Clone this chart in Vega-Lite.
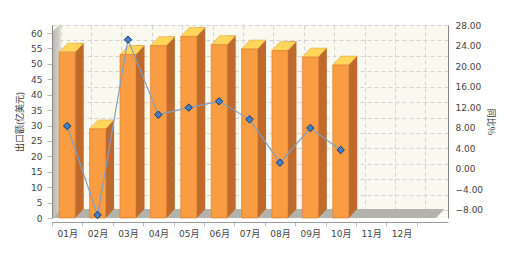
{
  "$schema": "https://vega.github.io/schema/vega-lite/v6.json",
  "width": 396,
  "height": 193,
  "autosize": {"type": "none"},
  "padding": {"left": 52, "top": 25, "right": 71, "bottom": 44},
  "background": "white",
  "view": {"fill": "#F9F9EF", "stroke": null},
  "config": {
    "axis": {
      "labelFont": "DejaVu Sans, Noto Sans CJK SC",
      "labelFontSize": 9,
      "labelColor": "#444444",
      "titleFont": "Noto Sans CJK SC",
      "titleFontSize": 9,
      "titleFontWeight": "normal",
      "titleColor": "#333333"
    }
  },
  "datasets": {
    "main": [
      {"month": "01月", "export": 53.8, "yoy": 8.35},
      {"month": "02月", "export": 28.9, "yoy": -8.97},
      {"month": "03月", "export": 53.0, "yoy": 25.15},
      {"month": "04月", "export": 55.9, "yoy": 10.55},
      {"month": "05月", "export": 58.9, "yoy": 11.92},
      {"month": "06月", "export": 56.2, "yoy": 13.15},
      {"month": "07月", "export": 54.8, "yoy": 9.64},
      {"month": "08月", "export": 54.3, "yoy": 1.21},
      {"month": "09月", "export": 52.2, "yoy": 7.96},
      {"month": "10月", "export": 49.6, "yoy": 3.68}
    ]
  },
  "data": {"name": "main"},
  "layer": [
    {
      "mark": {"type": "point", "opacity": 0},
      "encoding": {
        "x": {
          "field": "month", "type": "nominal",
          "scale": {"type": "band", "domain": ["01月","02月","03月","04月","05月","06月","07月","08月","09月","10月","11月","12月"], "paddingInner": 0, "paddingOuter": 0.515, "align": 0.275},
          "axis": {"orient": "bottom", "labels": false, "ticks": false, "domain": false, "grid": true, "tickBand": "extent", "gridDash": [4, 3], "gridColor": "#D2D2D2", "title": null}
        },
        "y": {
          "field": "export", "type": "quantitative",
          "scale": {"domain": [-2.595, 60.01], "nice": false, "zero": false},
          "axis": {"orient": "left", "labels": false, "ticks": false, "domain": false, "grid": true, "values": [0,5,10,15,20,25,30,35,40,45,50,55,60], "gridDash": [4, 3], "gridColor": "#D2D2D2", "title": null}
        }
      }
    },
    {
      "encoding": {
        "x": {
          "field": "month", "type": "nominal",
          "scale": {"type": "band", "domain": ["01月","02月","03月","04月","05月","06月","07月","08月","09月","10月","11月","12月"], "paddingInner": 0, "paddingOuter": 0.515, "align": 0},
          "axis": {"orient": "bottom", "offset": 4, "tickBand": "extent", "tickSize": 4, "tickColor": "#BBBBBB", "domainColor": "#999999", "labelPadding": 3, "labelAngle": 0, "title": null, "grid": false, "zindex": 1}
        },
        "y": {
          "field": "export", "type": "quantitative",
          "scale": {"domain": [0, 62.6], "nice": false},
          "axis": {"orient": "left", "values": [0,5,10,15,20,25,30,35,40,45,50,55,60], "title": "出口额(亿美元)", "grid": false, "tickSize": 5, "tickColor": "#BBBBBB", "domainColor": "#888888", "labelPadding": 5, "titlePadding": 6, "zindex": 1}
        }
      },
      "layer": [
        {
          "data": {"values": [{"month": "01月", "export": 0}]},
          "mark": {"type": "point", "filled": true, "opacity": 1, "size": 400, "color": "#B3B3AB", "strokeWidth": 0,
                   "shape": "M 0 0 L 38.4 0 L 39.25 -0.9 L 0.85 -0.9 Z"},
          "encoding": {
            "x": {"field": "month", "type": "nominal", "bandPosition": 0}
          }
        },
        {
          "data": {"values": [{"month": "01月", "export": 0}]},
          "mark": {"type": "point", "filled": true, "opacity": 1, "size": 400, "strokeWidth": 0,
                   "color": {"gradient": "linear", "x1": 0, "y1": 0, "x2": 1, "y2": 0, "stops": [{"offset": 0, "color": "#B8B8B0"}, {"offset": 1, "color": "#D6D6CE"}]},
                   "shape": "M 0 0 L 0 -18.6 L 0.85 -19.45 L 0.85 -0.9 Z"},
          "encoding": {
            "x": {"field": "month", "type": "nominal", "bandPosition": 0}
          }
        },
        {
          "mark": {"type": "bar", "width": 8.5, "xOffset": 12.25, "yOffset": -9, "y2Offset": -9, "color": "#BD6A2C"}
        },
        {
          "mark": {"type": "point", "filled": true, "opacity": 1, "size": 400, "color": "#BD6A2C", "strokeWidth": 0,
                   "shape": "M 0.8 0 L 1.65 -0.9 L 0.8 -0.9 Z"},
          "encoding": {"y": {"datum": 0, "type": "quantitative"}}
        },
        {
          "mark": {"type": "point", "filled": true, "opacity": 1, "size": 400, "color": "#FFD65A", "stroke": "#D99A3A", "strokeWidth": 0.5,
                   "shape": "M -0.8 0 L 0.8 0 L 1.65 -0.9 L 0.05 -0.9 Z"}
        },
        {
          "mark": {"type": "bar", "width": 16, "color": "#FA9C42", "stroke": "#D77B2B", "strokeWidth": 0.6}
        }
      ]
    },
    {
      "encoding": {
        "x": {
          "field": "month", "type": "nominal",
          "scale": {"type": "band", "domain": ["01月","02月","03月","04月","05月","06月","07月","08月","09月","10月","11月","12月"], "paddingInner": 0, "paddingOuter": 0.515, "align": 0},
          "axis": null
        },
        "y": {
          "field": "yoy", "type": "quantitative",
          "scale": {"domain": [-9.557, 28], "nice": false, "zero": false},
          "axis": {"orient": "right", "values": [-8,-4,0,4,8,12,16,20,24,28], "format": ".2f", "title": "同比%", "grid": false, "tickSize": 0, "labelPadding": 7, "domainColor": "#888888", "titlePadding": 3, "zindex": 1}
        }
      },
      "layer": [
        {"mark": {"type": "line", "color": "#7F9FC6", "strokeWidth": 1.2}},
        {"mark": {"type": "point", "shape": "diamond", "filled": true, "opacity": 1, "size": 55, "color": "#3F7FD0", "stroke": "#1B355E", "strokeWidth": 1}}
      ]
    }
  ],
  "resolve": {
    "scale": {"x": "independent", "y": "independent"},
    "axis": {"x": "independent", "y": "independent"}
  }
}
